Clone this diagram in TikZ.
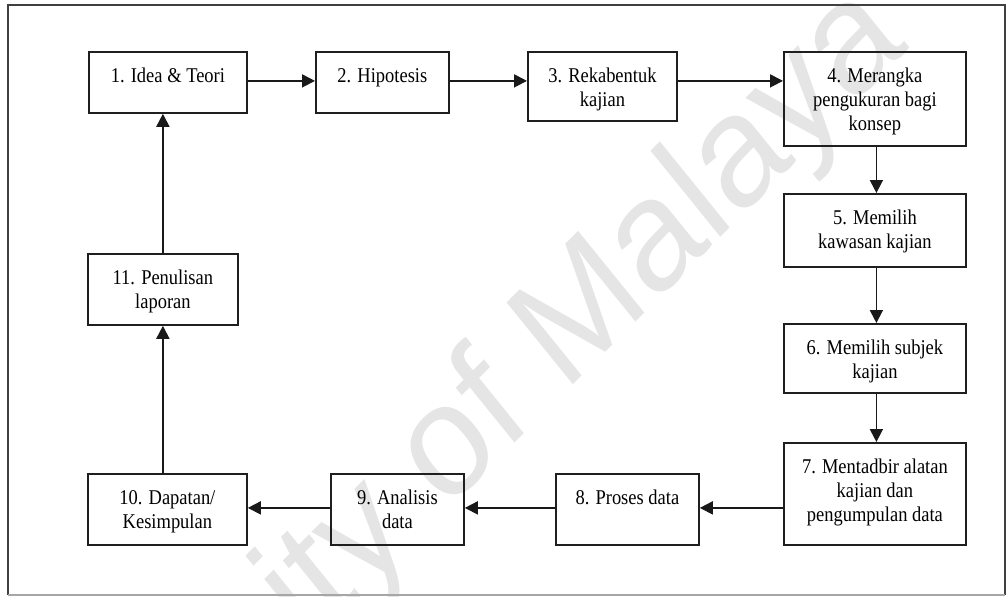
\documentclass[tikz,border=0pt]{standalone}
\usepackage{fontspec}
\setmainfont{Liberation Serif}[FakeStretch=0.88]
\newfontfamily\wmfont{Liberation Sans}
\usetikzlibrary{arrows.meta,calc}

% box content: width, height, text (first baseline 31pt below the top edge)
\newcommand\boxtext[3]{\parbox[c][#2pt][t]{#1pt}{\centering\fontsize{21}{24}\selectfont\rule{0pt}{31pt}#3\par}}

\begin{document}
\begin{tikzpicture}[x=1pt,y=-1pt,
  stepbox/.style={draw=black!88, line width=1.8pt, inner sep=0pt, anchor=north west},
  arr/.style={line width=1.8pt, draw=black!90, -{Triangle[length=13pt,width=13pt]}},
  frameline/.style={line width=2pt, draw=black!75},
]
\useasboundingbox (0,0) rectangle (1007,597);

% watermark
\begin{scope}
  \clip (0,0) rectangle (1007,597);
  \begin{scope}[xscale=0.9]
    \node[rotate=42, transform shape, anchor=base, inner sep=0pt, text=black!10,
          font=\wmfont\fontsize{160}{160}\selectfont] (wm) at (475.6,530) {University of Malaya};
  \end{scope}
\end{scope}

% outer frame
\draw[frameline] (8,595) -- (8,5) -- (1005,5) -- (1005,595);
\draw[line width=1.5pt, draw=black!35] (8,595) -- (1005,595);

% process steps
\node[stepbox] (b1)  at (88,51)   {\boxtext{158}{61}{1. Idea \& Teori}};
\node[stepbox] (b2)  at (315,51)  {\boxtext{133}{61}{2. Hipotesis}};
\node[stepbox] (b3)  at (527,51)  {\boxtext{149}{69}{3. Rekabentuk\\kajian}};
\node[stepbox] (b4)  at (783,51)  {\boxtext{182}{94}{4. Merangka\\pengukuran bagi\\konsep}};
\node[stepbox] (b5)  at (783,193) {\boxtext{182}{73}{5. Memilih\\kawasan kajian}};
\node[stepbox] (b6)  at (783,323) {\boxtext{182}{69}{6. Memilih subjek\\kajian}};
\node[stepbox] (b7)  at (783,442) {\boxtext{182}{102}{7. Mentadbir alatan\\kajian dan\\pengumpulan data}};
\node[stepbox] (b8)  at (555,473) {\boxtext{143}{71}{8. Proses data}};
\node[stepbox] (b9)  at (330,473) {\boxtext{133}{71}{9. Analisis\\data}};
\node[stepbox] (b10) at (87,473)  {\boxtext{159}{71}{10. Dapatan/\\Kesimpulan}};
\node[stepbox] (b11) at (87,253)  {\boxtext{150}{71}{11. Penulisan\\laporan}};

% top row
\draw[arr] ([yshift=1.5pt]b1.east) -- ([yshift=1.5pt]b2.west);
\draw[arr] ([yshift=1.5pt]b2.east) -- ([yshift=1.5pt]b2.east -| b3.west);
\draw[arr] ([yshift=1.5pt]b2.east -| b3.east) -- ([yshift=1.5pt]b2.east -| b4.west);

% right column
\draw[arr] ([xshift=1.5pt]b4.south) -- ([xshift=1.5pt]b5.north);
\draw[arr] ([xshift=1.5pt]b5.south) -- ([xshift=1.5pt]b6.north);
\draw[arr] ([xshift=1.5pt]b6.south) -- ([xshift=1.5pt]b7.north);

% bottom row
\draw[arr] ([yshift=1.5pt]b8.east -| b7.west) -- ([yshift=1.5pt]b8.east);
\draw[arr] ([yshift=1.5pt]b8.west) -- ([yshift=1.5pt]b9.east);
\draw[arr] ([yshift=1.5pt]b9.west) -- ([yshift=1.5pt]b10.east);

% left column
\draw[arr] (b11.south |- b10.north) -- (b11.south);
\draw[arr] (b11.north) -- (b11.north |- b1.south);
\end{tikzpicture}
\end{document}
